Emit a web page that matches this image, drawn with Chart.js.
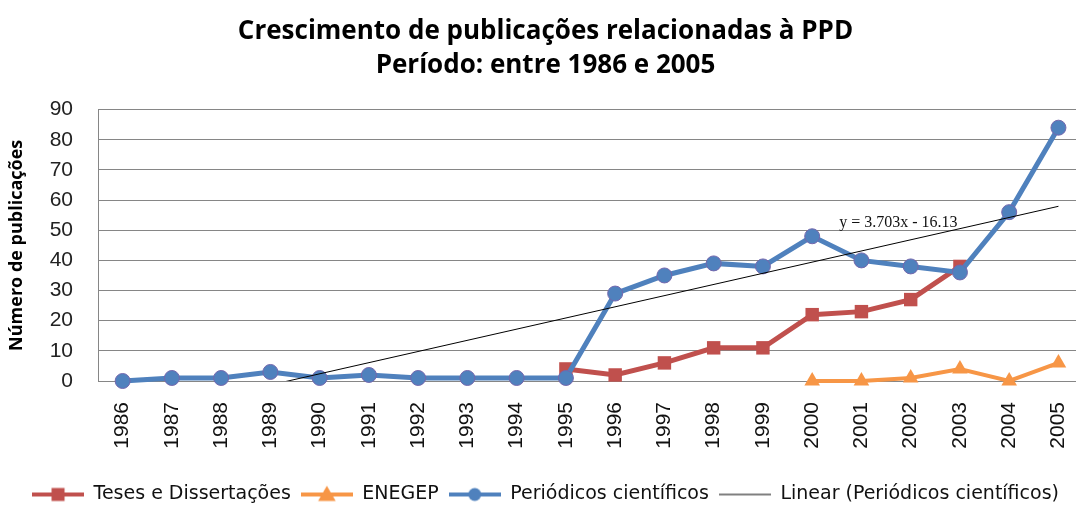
<!DOCTYPE html>
<html>
<head>
<meta charset="utf-8">
<script src="https://cdn.jsdelivr.net/npm/chart.js@4.4.1/dist/chart.umd.min.js"></script>
<style>
  html, body { margin: 0; padding: 0; background: #fff; overflow: hidden; }
  #wrap { position: relative; width: 1105px; height: 508px; }
</style>
</head>
<body>
<div id="wrap"><canvas id="pubChart"></canvas></div>
<script>
const years = ['1986', '1987', '1988', '1989', '1990', '1991', '1992', '1993', '1994', '1995',
               '1996', '1997', '1998', '1999', '2000', '2001', '2002', '2003', '2004', '2005'];

const teses = [null, null, null, null, null, null, null, null, null, 4,
               2, 6, 11, 11, 22, 23, 27, 38, null, null];

const enegep = [null, null, null, null, null, null, null, null, null, null,
                null, null, null, null, 0, 0, 1, 4, 0, 6];

const periodicos = [0, 1, 1, 3, 1, 2, 1, 1, 1, 1,
                    29, 35, 39, 38, 48, 40, 38, 36, 56, 84];

// linear trend as Excel draws it (y = 3.703x - 16.13), end points only
const trendYears = ['1989', '2005'];
const trendValues = [-1.32, 57.93];
const trendLabel = 'y = 3.703x - 16.13';

const RED = '#C0504D';
const ORANGE = '#F79646';
const BLUE = '#4F81BD';

// little line+marker pictures for the legend, like Excel does
function legendIcon(color, lineWidth, marker, size) {
    const c = document.createElement('canvas');
    c.width = 52;
    c.height = 20;
    const g = c.getContext('2d');
    g.strokeStyle = color;
    g.lineWidth = lineWidth;
    g.beginPath();
    g.moveTo(0, 10);
    g.lineTo(52, 10);
    g.stroke();
    g.fillStyle = color;
    if (marker === 'rect') {
        g.fillRect(26 - size / 2, 10 - size / 2, size, size);
    } else if (marker === 'triangle') {
        g.beginPath();
        g.moveTo(26, 10 - size * 0.55);
        g.lineTo(26 + size * 0.55, 10 + size * 0.4);
        g.lineTo(26 - size * 0.55, 10 + size * 0.4);
        g.closePath();
        g.fill();
    } else if (marker === 'circle') {
        g.beginPath();
        g.arc(26, 10, size / 2, 0, Math.PI * 2);
        g.fill();
    }
    return c;
}

const icons = [
    legendIcon(RED, 4, 'rect', 13),
    legendIcon(ORANGE, 4, 'triangle', 16),
    legendIcon(BLUE, 4, 'circle', 13),
    legendIcon('#000', 1, null, 0)
];

const trendLabelPlugin = {
    id: 'trendLabel',
    afterDatasetsDraw(chart) {
        const x = chart.scales.x.getPixelForValue(14.55);
        const y = chart.scales.y.getPixelForValue(52.3);
        const ctx = chart.ctx;
        ctx.save();
        ctx.font = '16px "Liberation Serif"';
        ctx.fillStyle = '#111';
        ctx.textBaseline = 'middle';
        ctx.fillText(trendLabel, x, y);
        ctx.restore();
    }
};

const ctx = document.getElementById('pubChart').getContext('2d');

const pubChart = new Chart(ctx, {
    type: 'line',
    data: {
        labels: years,
        datasets: [{
            label: 'Teses e Dissertações',
            data: teses,
            borderColor: RED,
            backgroundColor: RED,
            borderWidth: 5,
            pointStyle: 'rect',
            pointRadius: 9.5,
            pointBorderWidth: 0,
            clip: false,
            order: 3
        }, {
            label: 'ENEGEP',
            data: enegep,
            borderColor: ORANGE,
            backgroundColor: ORANGE,
            borderWidth: 4,
            pointStyle: 'triangle',
            pointRadius: 9,
            pointBorderWidth: 0,
            clip: false,
            order: 2
        }, {
            label: 'Periódicos científicos',
            data: periodicos,
            borderColor: BLUE,
            backgroundColor: BLUE,
            borderWidth: 5,
            pointStyle: 'circle',
            pointRadius: 7.5,
            pointBorderColor: '#7467ad',
            pointBorderWidth: 1,
            clip: false,
            order: 1
        }, {
            label: 'Linear (Periódicos científicos)',
            data: trendYears.map((yr, i) => ({ x: yr, y: trendValues[i] })),
            borderColor: '#000',
            backgroundColor: '#000',
            borderWidth: 1,
            pointRadius: 0,
            order: 0
        }]
    },
    options: {
        responsive: true,
        maintainAspectRatio: false,
        animation: false,
        layout: { padding: { left: 0, right: 14, top: 0, bottom: -6 } },
        plugins: {
            title: {
                display: true,
                text: ['Crescimento de publicações relacionadas à PPD', 'Período: entre 1986 e 2005'],
                color: '#000',
                font: { family: '"Open Sans"', size: 26, weight: 'bold', lineHeight: 1.3 },
                padding: { top: 15, bottom: 27 }
            },
            legend: {
                position: 'bottom',
                labels: {
                    color: '#111',
                    font: { family: '"DejaVu Sans"', size: 19 },
                    usePointStyle: true,
                    pointStyleWidth: 52,
                    padding: 10,
                    generateLabels(chart) {
                        return Chart.defaults.plugins.legend.labels.generateLabels(chart)
                            .sort((a, b) => a.datasetIndex - b.datasetIndex)
                            .map(item => Object.assign(item, { pointStyle: icons[item.datasetIndex] }));
                    }
                }
            },
            tooltip: { enabled: false }
        },
        scales: {
            x: {
                offset: true,
                grid: { display: false, drawTicks: false, offset: true },
                border: { color: '#868686', width: 1 },
                ticks: {
                    color: '#111',
                    font: { family: '"Liberation Sans"', size: 21 },
                    minRotation: 90,
                    maxRotation: 90,
                    autoSkip: false,
                    padding: 21
                },
                afterFit(scale) { scale.height = 94; }
            },
            y: {
                min: 0,
                max: 90,
                grid: { color: '#868686', drawTicks: false },
                border: { color: '#868686', width: 1 },
                ticks: {
                    stepSize: 10,
                    color: '#222',
                    font: { family: '"Liberation Sans"', size: 21 },
                    padding: 25
                },
                title: {
                    display: true,
                    text: 'Número de publicações',
                    color: '#000',
                    font: { family: '"Open Sans"', size: 18, weight: 'bold' },
                    padding: { top: 6, bottom: 0 }
                },
                afterFit(scale) { scale.width = 98; }
            }
        }
    },
    plugins: [trendLabelPlugin]
});
</script>
</body>
</html>
